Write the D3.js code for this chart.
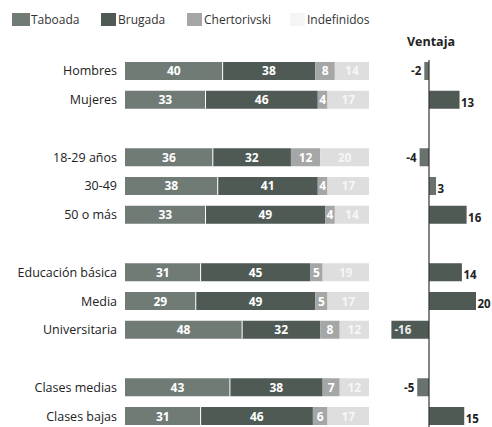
<!DOCTYPE html>
<html>
<head>
<meta charset="utf-8">
<script src="https://cdn.jsdelivr.net/npm/d3@7"></script>
<style>
  body { margin: 0; background: #fff; }
  svg text { font-family: "Open Sans", Lato, sans-serif; }
</style>
</head>
<body>
<div id="svg"></div>
<script>
// data
const categories = ['Hombres', 'Mujeres', '', '18-29 años', '30-49', '50 o más', ' ',
  'Educación básica', 'Media', 'Universitaria', '  ', 'Clases medias', 'Clases bajas']
const series = ['Taboada', 'Brugada', 'Chertorivski', 'Indefinidos']
const taboada      = [40, 33, null, 36, 38, 33, null, 31, 29, 48, null, 43, 31]
const brugada      = [38, 46, null, 32, 41, 49, null, 45, 49, 32, null, 38, 46]
const chertorivski = [8, 4, null, 12, 4, 4, null, 5, 5, 8, null, 7, 6]
const indefinidos  = [14, 17, null, 20, 17, 14, null, 19, 17, 12, null, 12, 17]
const ventaja      = [-2, 13, null, -4, 3, 16, null, 14, 20, -16, null, -5, 15]

const colors = ['#717b76', '#4f5a55', '#a5a7a6', '#dedede']

const rows = categories.map((c, i) => ({
  cat: c,
  vals: [taboada[i], brugada[i], chertorivski[i], indefinidos[i]],
  ventaja: ventaja[i]
}))

const svg = d3.select('#svg').append('svg')
  .attr('width', 492)
  .attr('height', 427)

// legend
const legend = svg.append('g')
const legX = [12, 101, 187, 290]
series.forEach((s, i) => {
  legend.append('rect')
    .attr('x', legX[i]).attr('y', 13)
    .attr('width', i == 0 ? 18 : 15).attr('height', 13)
    .attr('fill', i == 3 ? '#f5f5f5' : colors[i])
  legend.append('text')
    .attr('x', legX[i] + (i == 0 ? 19 : 17)).attr('y', 24)
    .attr('font-size', 12)
    .attr('fill', '#333')
    .text(s)
})

const yscale = d3.scaleBand()
  .domain(categories)
  .range([62, 425])
  .paddingInner(0.374)
  .paddingOuter(0)

const xscale = d3.scaleLinear()
  .domain([0, 100])
  .range([125, 369])

// stacked bars
const bars = svg.append('g')
rows.filter(r => r.vals[0] != null).forEach(r => {
  let acc = 0
  r.vals.forEach((v, j) => {
    const x0 = xscale(acc), x1 = xscale(acc + v)
    bars.append('rect')
      .attr('x', x0).attr('y', yscale(r.cat))
      .attr('width', x1 - x0).attr('height', yscale.bandwidth())
      .attr('fill', colors[j])
    bars.append('text')
      .attr('x', (x0 + x1) / 2)
      .attr('y', yscale(r.cat) + yscale.bandwidth() / 2 + 4.5)
      .attr('text-anchor', 'middle')
      .attr('font-size', 12)
      .attr('font-weight', 'bold')
      .attr('fill', j == 3 ? '#f6f6f6' : '#fff')
      .text(v)
    acc += v
  })
  // white divider between Taboada and Brugada
  bars.append('line')
    .attr('x1', xscale(r.vals[0])).attr('x2', xscale(r.vals[0]))
    .attr('y1', yscale(r.cat)).attr('y2', yscale(r.cat) + yscale.bandwidth())
    .attr('stroke', '#fff').attr('stroke-width', 1)
})

// category labels
svg.append('g').selectAll('text')
  .data(rows.filter(r => r.vals[0] != null))
  .enter()
  .append('text')
    .attr('x', 117)
    .attr('y', d => yscale(d.cat) + yscale.bandwidth() / 2 + 4.5)
    .attr('text-anchor', 'end')
    .attr('font-size', 12.5)
    .attr('fill', '#222')
    .text(d => d.cat)

// Ventaja
const vscale = d3.scaleLinear()
  .domain([0, 20])
  .range([429, 476])

svg.append('text')
  .attr('x', 431).attr('y', 46)
  .attr('text-anchor', 'middle')
  .attr('font-size', 12.5)
  .attr('font-weight', 'bold')
  .attr('fill', '#222')
  .text('Ventaja')

const vg = svg.append('g')
rows.filter(r => r.ventaja != null).forEach(r => {
  const v = r.ventaja
  const x0 = Math.min(vscale(0), vscale(v))
  const w = Math.abs(vscale(v) - vscale(0))
  vg.append('rect')
    .attr('x', x0).attr('y', yscale(r.cat))
    .attr('width', w).attr('height', yscale.bandwidth())
    .attr('fill', Math.abs(v) < 6 ? '#6a726e' : '#4f5a55')
  const inside = v <= -10
  vg.append('text')
    .attr('x', v > 0 ? vscale(v) + 1.5 : inside ? x0 + 3 : x0 - 3)
    .attr('y', yscale(r.cat) + yscale.bandwidth() / 2 + (v > 0 ? 7 : 4.5))
    .attr('text-anchor', v > 0 || inside ? 'start' : 'end')
    .attr('font-size', 11.5)
    .attr('font-weight', 'bold')
    .attr('fill', inside ? '#eee' : '#222')
    .text(v)
})

vg.append('line')
  .attr('x1', vscale(0)).attr('x2', vscale(0))
  .attr('y1', 60).attr('y2', 427)
  .attr('stroke', '#333').attr('stroke-width', 1.2)
</script>
</body>
</html>
